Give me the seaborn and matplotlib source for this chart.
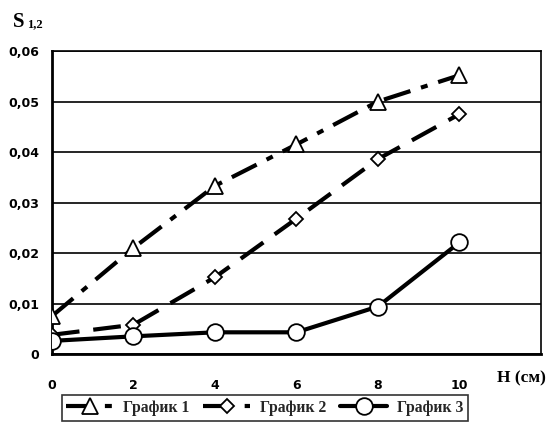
import matplotlib
matplotlib.use("Agg")
import matplotlib.pyplot as plt
import seaborn as sns
import pandas as pd

# values
h = [0, 2, 4, 6, 8, 10]
graf1 = [0.0075, 0.0210, 0.0333, 0.0415, 0.0500, 0.0552]
graf2 = [0.0038, 0.0058, 0.0152, 0.0268, 0.0386, 0.0475]
graf3 = [0.0026, 0.0035, 0.0043, 0.0043, 0.0094, 0.0221]
names = ["График 1", "График 2", "График 3"]
yticks = [0, 0.01, 0.02, 0.03, 0.04, 0.05, 0.06]

sns.set_theme(style="white")
plt.rcParams['font.family'] = ['DejaVu Sans']
plt.rcParams['lines.scale_dashes'] = False

fig = plt.figure(figsize=(5.52, 4.25), dpi=100)
ax = fig.add_axes([0.094, 0.167, 0.886, 0.713])

df = pd.DataFrame({'H': h * 3,
                   'S': graf1 + graf2 + graf3,
                   'g': [names[0]] * 6 + [names[1]] * 6 + [names[2]] * 6})

styles = {
    names[0]: dict(marker='^', ms=11, dashes=(20, 8, 5, 8)),
    names[1]: dict(marker='D', ms=7, dashes=(20, 10)),
    names[2]: dict(marker='o', ms=12, dashes=None),
}

for n in names:
    st = styles[n]
    sub = df[df['g'] == n]
    sns.lineplot(x='H', y='S', data=sub, ax=ax, color='black', lw=3,
                 marker=st['marker'], markersize=st['ms'], markerfacecolor='white',
                 markeredgecolor='black', markeredgewidth=1.3, label=n, zorder=3)
    line = ax.lines[-1]
    if st['dashes'] is not None:
        line.set_dashes(st['dashes'])

ax.set_xlim(0, 12)
ax.set_ylim(0, 0.06)
ax.set_yticks(yticks)
ax.set_yticklabels([f"{v:.2f}".replace('.', ',') if v else "0" for v in yticks])
ax.set_xticks(h)
ax.set_xticklabels([str(v) for v in h])
ax.grid(axis='y', color='black', lw=1.2)
ax.set_axisbelow(True)
for s in ['left', 'bottom']:
    ax.spines[s].set_linewidth(2)
    ax.spines[s].set_color('black')
for s in ['right', 'top']:
    ax.spines[s].set_linewidth(1.2)
    ax.spines[s].set_color('black')
ax.tick_params(axis='both', direction='out', length=5, width=1.5, colors='black',
               labelsize=9, pad=13)
ax.tick_params(axis='y', pad=4)
for t in ax.get_xticklabels() + ax.get_yticklabels():
    t.set_fontweight('bold')
ax.set_xlabel('')
ax.set_ylabel('')

fig.text(0.944, 0.100, "H (см)", fontsize=12.5, fontweight='bold', color='black',
         ha='center', family=['Liberation Serif'])
fig.text(0.024, 0.936, "S", fontsize=15, fontweight='bold', color='black',
         family=['Liberation Serif'], va='baseline')
fig.text(0.049, 0.936, "1,2", fontsize=9, fontweight='bold', color='black',
         family=['Liberation Serif'], va='baseline')

leg = ax.legend(loc='upper center', bbox_to_anchor=(0.435, -0.11), ncol=3,
                frameon=True, fancybox=False, edgecolor='black', handlelength=3,
                columnspacing=0.9, handletextpad=0.6, borderpad=0.3,
                prop={'family': 'Liberation Serif', 'weight': 'bold', 'size': 11.3})
leg.get_frame().set_linewidth(1.2)

fig.savefig('out.png', dpi=100, facecolor='white')
